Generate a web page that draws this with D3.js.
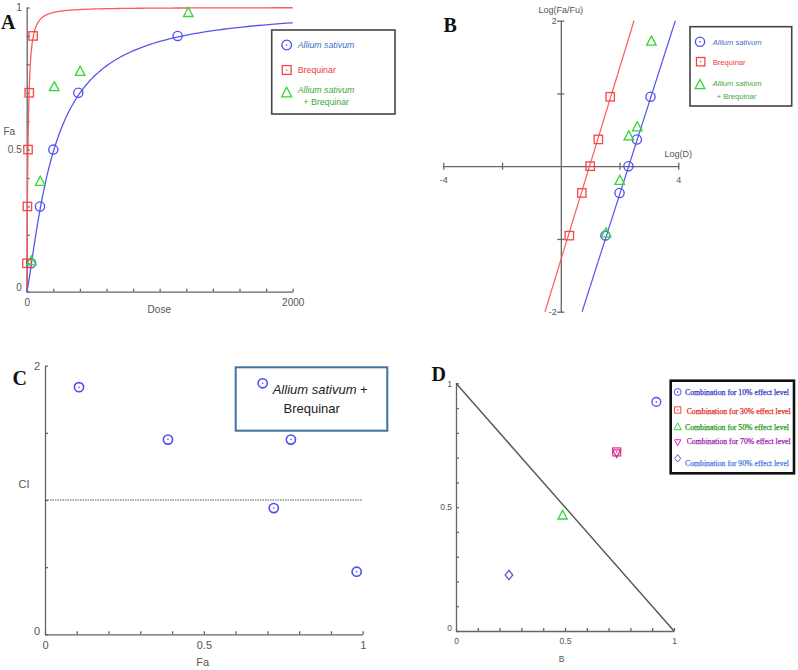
<!DOCTYPE html>
<html><head><meta charset="utf-8">
<script src="https://cdn.jsdelivr.net/npm/d3@7"></script>
<style>
html,body{margin:0;padding:0;background:#fff;}
svg{display:block;font-family:"Liberation Sans",Arial,sans-serif;}
.ax path,.ax line{stroke:#666;stroke-width:1.3;}
.ax text{fill:#555;}
</style></head>
<body>
<svg id="c" width="798" height="670"></svg>
<script>
// ---- data ----
const alliumDose = [33, 100, 200, 388, 1135];
const alliumFa = [0.1, 0.3, 0.5, 0.7, 0.9];
const brequinarDose = [1.95, 5.2, 10, 19, 48];
const brequinarFa = [0.1, 0.3, 0.5, 0.7, 0.9];
const comboDose = [35, 102, 207, 402, 1215];
const comboFa = [0.107, 0.387, 0.72, 0.774, 0.981];
const comboCI = [1.84, 1.45, 0.94, 1.45, 0.466];
// median-effect parameters (Dm, m) for the fitted curves
const alliumDm = 205, alliumM = 1.26;
const brequinarDm = 9.5, brequinarM = 1.32;
// isobologram (panel D)
const effectLevels = ["10%", "30%", "50%", "70%", "90%"];
const isoB = [0.919, 0.737, 0.489, 0.737, 0.243];
const isoY = [0.925, 0.723, 0.466, 0.72, 0.226];
const doseTicks = d3.range(0, 2001, 200);
const faTicks = d3.range(0, 1.0001, 0.1);

const svg = d3.select("#c");
const BLUE = "#4d4df5", RED = "#f44646", GREEN = "#33d633";

function marker(g, type, x, y, color, opts = {}) {
  const s = opts.s || 1;
  const sw = opts.sw || 1.3;
  let el;
  if (type === "circle") el = g.append("circle").attr("cx", x).attr("cy", y).attr("r", 4.6 * s);
  else if (type === "square") el = g.append("rect").attr("x", x - 4.2 * s).attr("y", y - 4.2 * s).attr("width", 8.4 * s).attr("height", 8.4 * s);
  else if (type === "triangle") el = g.append("path").attr("d", `M${x},${y - 5.5 * s}L${x + 4.8 * s},${y + 3.6 * s}L${x - 4.8 * s},${y + 3.6 * s}Z`);
  else if (type === "down") el = g.append("path").attr("d", `M${x},${y + 5 * s}L${x + 4.2 * s},${y - 3 * s}L${x - 4.2 * s},${y - 3 * s}Z`);
  else if (type === "diamond") el = g.append("path").attr("d", `M${x},${y - 5 * s}L${x + 4 * s},${y}L${x},${y + 5 * s}L${x - 4 * s},${y}Z`);
  el.attr("fill", "none").attr("stroke", color).attr("stroke-width", sw);
  if (opts.dot) g.append("circle").attr("cx", x).attr("cy", y).attr("r", 0.8).attr("fill", color);
}
function panelLabel(t, x, y) {
  svg.append("text").attr("x", x).attr("y", y).text(t)
    .attr("font-family", "Liberation Serif,Times New Roman,serif").attr("font-weight", "bold").attr("font-size", 20).attr("fill", "#111");
}
const medianFa = (D, Dm, m) => D <= 0 ? 0 : 1 / (1 + Math.pow(Dm / D, m));

// ================= Panel A =================
{
  const x = d3.scaleLinear().domain([0, 2000]).range([26.7, 292.7]);
  const y = d3.scaleLinear().domain([0, 1]).range([291.7, 7.5]);
  const g = svg.append("g");
  g.append("g").attr("class", "ax").attr("transform", `translate(0,${y(0)})`)
    .call(d3.axisBottom(x).tickValues(doseTicks).tickSizeInner(-3).tickSizeOuter(0).tickFormat(d => (d === 0 || d === 2000) ? d : ""))
    .call(a => a.selectAll("text").attr("font-size", 10).attr("dy", "1.15em"));
  g.append("g").attr("class", "ax").attr("transform", `translate(${x(0)},0)`)
    .call(d3.axisLeft(y).tickValues(faTicks).tickSizeInner(-3).tickSizeOuter(0).tickFormat(d => (Math.abs(d) < 1e-9 ? "0" : Math.abs(d - 0.5) < 1e-9 ? "0.5" : Math.abs(d - 1) < 1e-9 ? "1" : "")))
    .call(a => a.selectAll("text").attr("font-size", 10).attr("x", -5)
      .attr("dy", d => Math.abs(d) < 1e-9 ? "-0.1em" : "0.32em"));
  g.append("text").attr("x", 9.3).attr("y", 135).attr("text-anchor", "middle").attr("font-size", 10).attr("fill", "#555").text("Fa");
  g.append("text").attr("x", 159.3).attr("y", 313).attr("text-anchor", "middle").attr("font-size", 10).attr("fill", "#555").text("Dose");

  const sample = [0].concat(d3.range(-2, Math.log10(2000) + 1e-9, 0.01).map(e => Math.pow(10, e)), [2000]);
  const line = d3.line().x(d => x(d[0])).y(d => y(d[1]));
  g.append("path").attr("d", line(sample.map(D => [D, medianFa(D, brequinarDm, brequinarM)])))
    .attr("fill", "none").attr("stroke", "#ff5a5a").attr("stroke-width", 1.3);
  g.append("path").attr("d", line(sample.map(D => [D, medianFa(D, alliumDm, alliumM)])))
    .attr("fill", "none").attr("stroke", "#5656ee").attr("stroke-width", 1.3);

  alliumDose.forEach((d, i) => marker(g, "circle", x(d), y(alliumFa[i]), BLUE));
  brequinarDose.forEach((d, i) => marker(g, "square", x(d), y(brequinarFa[i]), RED));
  comboDose.forEach((d, i) => marker(g, "triangle", x(d), y(comboFa[i]), GREEN));

  // legend
  g.append("rect").attr("x", 271.7).attr("y", 30).attr("width", 123.3).attr("height", 84)
    .attr("fill", "#fff").attr("stroke", "#444").attr("stroke-width", 1.6);
  marker(g, "circle", 286.7, 45, BLUE, { dot: true, s: 1.05 });
  marker(g, "square", 286.7, 70, RED, { dot: true, s: 1.05 });
  marker(g, "triangle", 286.7, 93, GREEN, { s: 1.05 });
  const lt = (t, xx, yy, c, it) => g.append("text").attr("x", xx).attr("y", yy).attr("font-size", 8.8)
    .attr("font-style", it ? "italic" : "normal").attr("fill", c).text(t);
  lt("Allium sativum", 297.7, 48, "#3f6fc7", true);
  lt("Brequinar", 297.7, 73, "#f03a3a", false);
  lt("Allium sativum", 297.7, 93, "#3ea83e", true);
  lt("+ Brequinar", 303.3, 105, "#3ea83e", false);
  panelLabel("A", 1, 28.5);
}

// ================= Panel B =================
{
  const x = d3.scaleLinear().domain([-4, 4]).range([443.3, 678.3]);
  const y = d3.scaleLinear().domain([-2, 2]).range([311.7, 20.7]);
  const g = svg.append("g");
  g.append("g").attr("class", "ax").attr("transform", `translate(0,${y(0)})`)
    .call(d3.axisBottom(x).tickValues([-4, -2, 2, 4]).tickSizeOuter(0).tickFormat(d => (d === -4 || d === 4) ? d : ""))
    .call(a => { a.selectAll("line").attr("y1", -3.5).attr("y2", 3.5); a.selectAll("text").attr("font-size", 9).attr("y", 10).attr("dy", "0.75em"); });
  g.append("g").attr("class", "ax").attr("transform", `translate(${x(0)},0)`)
    .call(d3.axisLeft(y).tickValues([-2, -1, 1, 2]).tickSizeOuter(0).tickFormat(d => (d === -2 || d === 2) ? d : ""))
    .call(a => { a.selectAll("line").attr("x1", -3.5).attr("x2", 3.5); a.selectAll("text").attr("font-size", 9).attr("x", -4); });
  g.append("text").attr("x", 560.7).attr("y", 13).attr("text-anchor", "middle").attr("font-size", 9).attr("fill", "#555").text("Log(Fa/Fu)");
  g.append("text").attr("x", 678.3).attr("y", 156.5).attr("text-anchor", "middle").attr("font-size", 9).attr("fill", "#555").text("Log(D)");

  const yy = [-2, 2];
  const line = d3.line().x(d => x(d[0])).y(d => y(d[1]));
  g.append("path").attr("d", line(yy.map(v => [Math.log10(brequinarDm) + v / brequinarM, v])))
    .attr("fill", "none").attr("stroke", "#ff5a5a").attr("stroke-width", 1.2);
  g.append("path").attr("d", line(yy.map(v => [Math.log10(alliumDm) + v / alliumM, v])))
    .attr("fill", "none").attr("stroke", "#5656ee").attr("stroke-width", 1.2);
  const lf = f => Math.log10(f / (1 - f));
  alliumDose.forEach((d, i) => marker(g, "circle", x(Math.log10(d)), y(lf(alliumFa[i])), BLUE));
  brequinarDose.forEach((d, i) => marker(g, "square", x(Math.log10(d)), y(lf(brequinarFa[i])), RED));
  comboDose.forEach((d, i) => marker(g, "triangle", x(Math.log10(d)), y(lf(comboFa[i])), GREEN));

  g.append("rect").attr("x", 690).attr("y", 26.7).attr("width", 101.7).attr("height", 79.3)
    .attr("fill", "#fff").attr("stroke", "#444").attr("stroke-width", 1.6);
  marker(g, "circle", 700, 41.7, BLUE, { dot: true });
  marker(g, "square", 700.7, 61.7, RED, { dot: true });
  marker(g, "triangle", 700, 85, GREEN);
  const lt = (t, xx, yy2, c, it) => g.append("text").attr("x", xx).attr("y", yy2).attr("font-size", 7.6)
    .attr("font-style", it ? "italic" : "normal").attr("fill", c).text(t);
  lt("Allium sativum", 712.7, 44.5, "#3f6fc7", true);
  lt("Brequinar", 712.7, 64.5, "#f03a3a", false);
  lt("Allium sativum", 712.7, 85.5, "#3ea83e", true);
  lt("+ Brequinar", 716.7, 99, "#3ea83e", false);
  panelLabel("B", 443.5, 32);
}

// ================= Panel C =================
{
  const x = d3.scaleLinear().domain([0, 1]).range([45, 362.7]);
  const y = d3.scaleLinear().domain([0, 2]).range([634.3, 365.7]);
  const g = svg.append("g");
  g.append("g").attr("class", "ax").attr("transform", `translate(0,${y(0)})`)
    .call(d3.axisBottom(x).tickValues(faTicks).tickSizeInner(-3).tickSizeOuter(0).tickFormat(d => (Math.abs(d) < 1e-9 ? "0" : Math.abs(d - 0.5) < 1e-9 ? "0.5" : Math.abs(d - 1) < 1e-9 ? "1" : "")))
    .call(a => a.selectAll("text").attr("font-size", 11).attr("dy", "1.1em"));
  g.append("g").attr("class", "ax").attr("transform", `translate(${x(0)},0)`)
    .call(d3.axisLeft(y).tickValues([0, 0.5, 1, 1.5, 2]).tickSizeInner(-3).tickSizeOuter(0).tickFormat(d => (d === 0 || d === 2) ? d : ""))
    .call(a => a.selectAll("text").attr("font-size", 11).attr("x", -5).attr("dy", d => d === 0 ? "0.05em" : "0.32em"));
  g.append("line").attr("x1", x(0)).attr("x2", x(1)).attr("y1", y(1)).attr("y2", y(1))
    .attr("stroke", "#555").attr("stroke-width", 1).attr("stroke-dasharray", "1.5,1");
  g.append("text").attr("x", 24).attr("y", 488).attr("text-anchor", "middle").attr("font-size", 11).attr("fill", "#555").text("CI");
  g.append("text").attr("x", 202.7).attr("y", 665.5).attr("text-anchor", "middle").attr("font-size", 11).attr("fill", "#555").text("Fa");
  comboFa.forEach((f, i) => marker(g, "circle", x(f), y(comboCI[i]), BLUE, { dot: true, sw: 1.6 }));

  g.append("rect").attr("x", 235.7).attr("y", 367.3).attr("width", 151.6).attr("height", 63.4)
    .attr("fill", "#fff").attr("stroke", "#41719c").attr("stroke-width", 2);
  marker(g, "circle", 262.7, 383.3, BLUE, { dot: true, sw: 1.6 });
  const t = g.append("text").attr("x", 272.7).attr("y", 393.5).attr("font-size", 13).attr("fill", "#222");
  t.append("tspan").attr("font-style", "italic").text("Allium sativum");
  t.append("tspan").text(" +");
  g.append("text").attr("x", 311.7).attr("y", 413).attr("text-anchor", "middle").attr("font-size", 13).attr("fill", "#222").text("Brequinar");
  panelLabel("C", 12.5, 384.5);
}

// ================= Panel D =================
{
  const x = d3.scaleLinear().domain([0, 1]).range([456, 674]);
  const y = d3.scaleLinear().domain([0, 1]).range([631, 383.3]);
  const g = svg.append("g");
  const lab = d => (Math.abs(d) < 1e-9 ? "0" : Math.abs(d - 0.5) < 1e-9 ? "0.5" : Math.abs(d - 1) < 1e-9 ? "1" : "");
  g.append("g").attr("class", "ax").attr("transform", `translate(0,${y(0)})`)
    .call(d3.axisBottom(x).tickValues(faTicks).tickSizeInner(-3).tickSizeOuter(0).tickFormat(lab))
    .call(a => a.selectAll("text").attr("font-size", 8.5).attr("dy", "1.2em"));
  g.append("g").attr("class", "ax").attr("transform", `translate(${x(0)},0)`)
    .call(d3.axisLeft(y).tickValues(faTicks).tickSizeInner(-3).tickSizeOuter(0).tickFormat(lab))
    .call(a => a.selectAll("text").attr("font-size", 8.5).attr("x", -4).attr("dy", d => Math.abs(d) < 1e-9 ? "-0.05em" : "0.32em"));
  g.append("line").attr("x1", x(0)).attr("y1", y(1)).attr("x2", x(1)).attr("y2", y(0))
    .attr("stroke", "#555").attr("stroke-width", 1.4);
  g.append("text").attr("x", 561.7).attr("y", 661.5).attr("text-anchor", "middle").attr("font-size", 8.5).attr("fill", "#555").text("B");

  const types = ["circle", "square", "triangle", "down", "diamond"];
  const mcol = ["#4d4df5", "#f44646", "#33d633", "#d028c8", "#6a5ad0"];
  const tcol = ["#3535c8", "#e42a2a", "#1c9a1c", "#9a22b0", "#4a7ae0"];
  effectLevels.forEach((e, i) => marker(g, types[i], x(isoB[i]), y(isoY[i]), mcol[i], { dot: i < 2, s: 0.95 }));

  g.append("rect").attr("x", 670.7).attr("y", 380.7).attr("width", 123.3).attr("height", 92.6)
    .attr("fill", "#fff").attr("stroke", "#111").attr("stroke-width", 2.6);
  const my = [392, 410, 427, 442, 458.3];
  const ty = [395, 413.5, 430, 443.5, 466];
  const tx = [685, 686.7, 685, 686.7, 685];
  effectLevels.forEach((e, i) => {
    marker(g, types[i], 677.7, my[i], mcol[i], { dot: i < 2, s: 0.75, sw: 1 });
    g.append("text").attr("x", tx[i]).attr("y", ty[i]).attr("font-size", 7.8)
      .attr("font-family", "Liberation Serif,Times New Roman,serif")
      .attr("fill", tcol[i]).attr("stroke", tcol[i]).attr("stroke-width", 0.25)
      .attr("textLength", 104).attr("lengthAdjust", "spacingAndGlyphs")
      .text(`Combination for ${e} effect level`);
  });
  panelLabel("D", 431.5, 381);
}
</script>
</body></html>
